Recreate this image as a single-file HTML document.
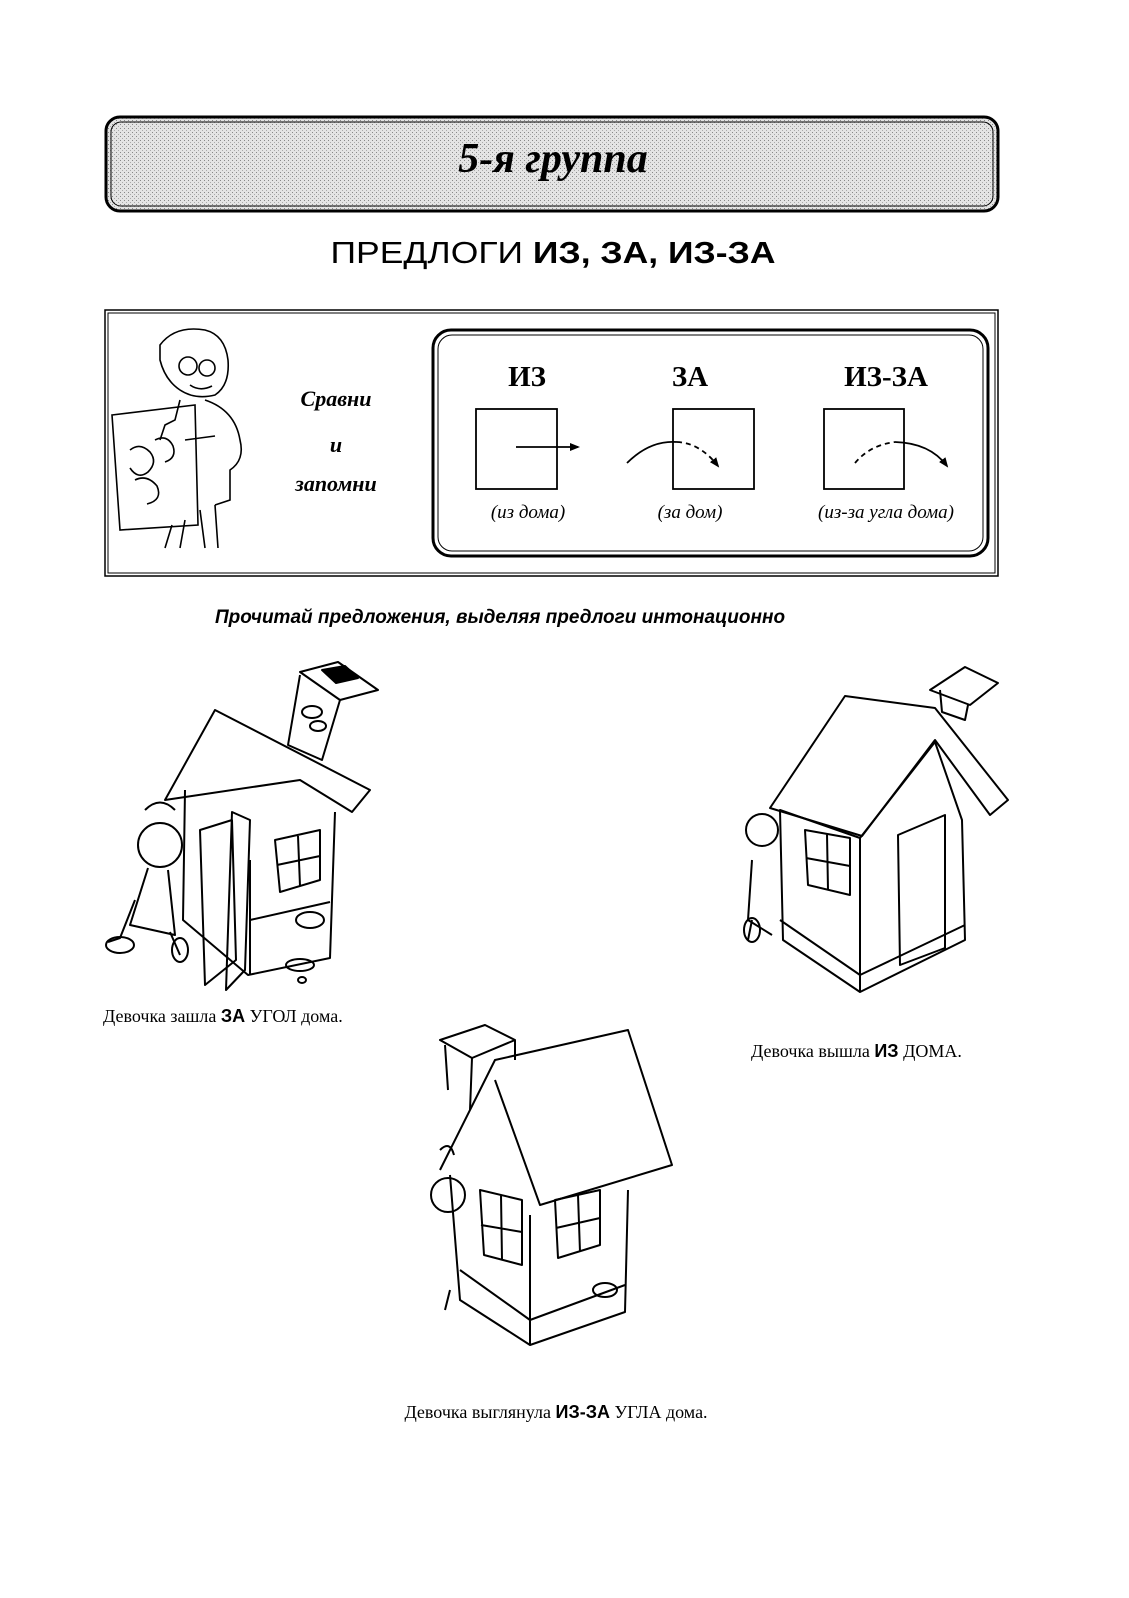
<!DOCTYPE html>
<html><head><meta charset="utf-8"><style>
html,body{margin:0;padding:0;background:#fff;width:1129px;height:1598px;overflow:hidden}
svg{display:block;position:absolute;left:0;top:0}
</style></head><body>
<svg width="1129" height="1598" viewBox="0 0 1129 1598" xmlns="http://www.w3.org/2000/svg">
<defs>
<pattern id="dots" width="4" height="4" patternUnits="userSpaceOnUse">
<rect width="4" height="4" fill="#e4e4e4"/><rect width="1" height="1" fill="#888"/><rect x="2" y="2" width="1" height="1" fill="#aaa"/>
</pattern>
<marker id="ah" markerWidth="10" markerHeight="10" refX="8" refY="5" orient="auto" markerUnits="userSpaceOnUse"><path d="M0,1 L10,5 L0,9 Z" fill="#000"/></marker>
</defs>
<rect x="106" y="117" width="892" height="94" rx="14" fill="url(#dots)" stroke="#000" stroke-width="3"/>
<rect x="111" y="122" width="882" height="84" rx="10" fill="none" stroke="#000" stroke-width="1"/>
<text x="553" y="172" text-anchor="middle" font-family="Liberation Serif, serif" font-style="italic" font-weight="bold" font-size="42">5-я группа</text>
<text x="553" y="263" text-anchor="middle" font-family="Liberation Sans, sans-serif" font-size="31" textLength="445" lengthAdjust="spacingAndGlyphs">ПРЕДЛОГИ <tspan font-weight="bold">ИЗ, ЗА, ИЗ-ЗА</tspan></text>
<rect x="105" y="310" width="893" height="266" fill="none" stroke="#000" stroke-width="1.5"/>
<rect x="108" y="313" width="887" height="260" fill="none" stroke="#000" stroke-width="1"/>
<rect x="433" y="330" width="555" height="226" rx="18" fill="none" stroke="#000" stroke-width="3"/>
<rect x="438" y="335" width="545" height="216" rx="14" fill="none" stroke="#000" stroke-width="1"/>
<g fill="none" stroke="#000" stroke-width="1.6">
<path d="M160,345 Q175,325 205,330 Q225,335 228,360 Q230,385 215,395 Q195,400 180,390 Q165,380 160,360 Z"/>
<circle cx="188" cy="366" r="9"/><circle cx="207" cy="368" r="8"/>
<path d="M190,385 Q200,392 212,386"/>
<path d="M180,400 L175,420 L165,425 L160,440"/>
<path d="M205,400 Q235,410 240,440 Q245,460 230,470 L230,500 L215,505"/>
<path d="M112,415 L195,405 L198,525 L120,530 Z"/>
<path d="M185,440 L215,436"/>
<path d="M172,525 L165,548 M185,520 L180,548 M200,510 L205,548 M215,505 L218,548"/>
<path d="M130,450 q10,-8 20,2 q8,10 -2,20 q-10,8 -18,-4 M155,440 q12,-6 18,6 q4,12 -8,16 M135,480 q12,-6 22,6 q6,14 -10,18"/>
</g>
<g font-family="Liberation Serif, serif" font-style="italic" font-weight="bold" font-size="22" text-anchor="middle">
<text x="336" y="406">Сравни</text><text x="336" y="452">и</text><text x="336" y="491">запомни</text>
</g>
<g font-family="Liberation Serif, serif" font-weight="bold" font-size="29" text-anchor="middle">
<text x="527" y="386">ИЗ</text><text x="690" y="386">ЗА</text><text x="886" y="386">ИЗ-ЗА</text>
</g>
<g fill="none" stroke="#000" stroke-width="1.8">
<rect x="476" y="409" width="81" height="80"/>
<rect x="673" y="409" width="81" height="80"/>
<rect x="824" y="409" width="80" height="80"/>
<path d="M516,447 L578,447" marker-end="url(#ah)"/>
<path d="M627,463 Q650,440 677,442"/>
<path d="M677,442 Q700,443 718,466" stroke-dasharray="5,4" marker-end="url(#ah)"/>
<path d="M855,463 Q870,445 895,442" stroke-dasharray="5,4"/>
<path d="M895,442 Q930,443 947,466" marker-end="url(#ah)"/>
</g>
<g font-family="Liberation Serif, serif" font-style="italic" font-size="19" text-anchor="middle">
<text x="528" y="518">(из дома)</text><text x="690" y="518">(за дом)</text><text x="886" y="518">(из-за угла дома)</text>
</g>
<text x="500" y="623" text-anchor="middle" font-family="Liberation Sans, sans-serif" font-style="italic" font-weight="bold" font-size="19">Прочитай предложения, выделяя предлоги интонационно</text>
<g fill="none" stroke="#000" stroke-width="2" stroke-linejoin="round">
<path d="M165,800 L215,710 L370,790 L352,812 L300,780 Z"/>
<path d="M300,672 L338,662 L378,690 L340,700 Z" fill="#fff"/><path d="M322,670 L345,666 L358,678 L336,683 Z" fill="#000"/>
<path d="M300,675 L288,745 L322,760 L340,700"/>
<ellipse cx="312" cy="712" rx="10" ry="6"/><ellipse cx="318" cy="726" rx="8" ry="5"/>
<path d="M185,790 L183,920 L248,975 L330,958 L335,812"/>
<path d="M250,860 L250,975 M250,920 L330,902"/>
<path d="M275,840 L320,830 L320,880 L280,892 Z M298,836 L300,886 M277,865 L320,856"/>
<path d="M200,830 L232,820 L236,960 L205,985 Z M232,812 L250,820 L245,970 L226,990 Z"/>
<ellipse cx="310" cy="920" rx="14" ry="8"/><ellipse cx="300" cy="965" rx="14" ry="6"/><ellipse cx="302" cy="980" rx="4" ry="3"/>
<circle cx="160" cy="845" r="22"/><path d="M145,810 q15,-15 30,0"/>
<path d="M148,868 L130,925 L175,935 L168,870 M135,900 L120,938 L108,942 M170,932 L180,955"/>
<ellipse cx="120" cy="945" rx="14" ry="8"/><ellipse cx="180" cy="950" rx="8" ry="12"/>
</g>
<g fill="none" stroke="#000" stroke-width="2" stroke-linejoin="round">
<path d="M770,808 L845,696 L935,708 L1008,800 L990,815 L935,740 L862,836 Z"/>
<path d="M930,690 L965,667 L998,683 L970,705 Z"/><path d="M940,690 L942,712 L965,720 L968,705"/>
<path d="M780,810 L783,940 L860,992 L965,940 L962,820 L935,742 L860,838 Z"/>
<path d="M780,920 L860,975 L965,925 M860,838 L860,992"/>
<path d="M805,830 L850,838 L850,895 L808,885 Z M827,834 L828,890 M806,858 L850,866"/>
<path d="M898,835 L945,815 L945,948 L900,965 Z"/>
<circle cx="762" cy="830" r="16"/><path d="M752,860 L748,920 L772,935 M752,920 L748,940"/><ellipse cx="752" cy="930" rx="8" ry="12"/>
</g>
<g fill="none" stroke="#000" stroke-width="2" stroke-linejoin="round">
<path d="M440,1040 L485,1025 L515,1040 L472,1058 Z"/><path d="M445,1045 L448,1090 M472,1058 L470,1110 M515,1040 L515,1060"/>
<path d="M440,1170 L495,1060 L628,1030 L672,1165 L540,1205 L495,1080"/>
<path d="M450,1175 L460,1300 L530,1345 L625,1312 L628,1190"/>
<path d="M460,1270 L530,1320 L625,1285 M530,1215 L530,1345"/>
<path d="M480,1190 L522,1200 L522,1265 L484,1255 Z M501,1195 L502,1260 M481,1225 L522,1232"/>
<path d="M555,1200 L600,1190 L600,1245 L558,1258 Z M578,1195 L580,1252 M556,1228 L600,1218"/>
<ellipse cx="605" cy="1290" rx="12" ry="7"/>
<circle cx="448" cy="1195" r="17"/><path d="M440,1150 q10,-10 14,5"/><path d="M450,1290 L445,1310"/>
</g>
<g font-family="Liberation Serif, serif" font-size="18">
<text x="103" y="1022">Девочка зашла <tspan font-family="Liberation Sans, sans-serif" font-weight="bold">ЗА</tspan> УГОЛ дома.</text>
<text x="751" y="1057">Девочка вышла <tspan font-family="Liberation Sans, sans-serif" font-weight="bold">ИЗ</tspan> ДОМА.</text>
<text x="556" y="1418" text-anchor="middle">Девочка выглянула <tspan font-family="Liberation Sans, sans-serif" font-weight="bold">ИЗ-ЗА</tspan> УГЛА дома.</text>
</g>
</svg>
</body></html>
